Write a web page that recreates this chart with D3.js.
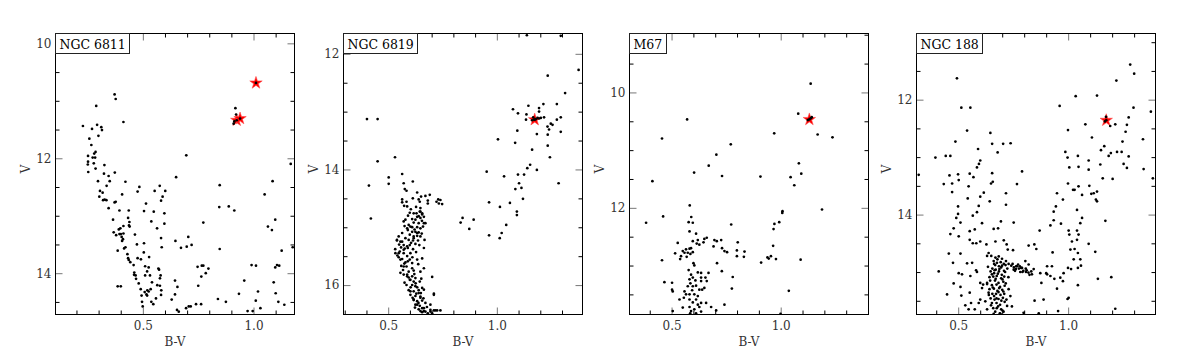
<!DOCTYPE html>
<html>
<head>
<meta charset="utf-8">
<script src="https://cdn.jsdelivr.net/npm/d3@7"></script>
<style>
  body { margin: 0; background: #fff; }
  text { font-family: "DejaVu Serif", "Liberation Serif", serif; }
</style>
</head>
<body>
<svg id="chart" width="1200" height="361"></svg>
<script>
// cluster names, one panel each
const clusterNames = ['NGC 6811', 'NGC 6819', 'M67', 'NGC 188'];

// axis ranges (B-V left..right, V top..bottom)
const xDomains = [[0.103, 1.183], [0.292, 1.392], [0.305, 1.400], [0.308, 1.395]];
const yDomains = [[9.82, 14.71], [11.64, 16.50], [8.97, 13.84], [10.84, 15.73]];

const xMajorTicks = [0.5, 1.0];
const yMajorTicks = [10, 12, 14, 16];

// [B-V, V]
const ngc6811 = [
  [0.370,10.88],[0.375,10.96],[0.287,11.08],[0.410,11.36],[0.227,11.43],[0.268,11.48],[0.291,11.41],
  [0.310,11.45],[0.313,11.50],[0.256,11.65],[0.297,11.60],[0.265,11.76],[0.284,11.88],[0.278,11.91],
  [0.250,11.95],[0.271,11.98],[0.282,11.98],[0.250,12.05],[0.249,12.10],[0.276,12.08],[0.251,12.23],
  [0.284,12.17],[0.324,12.11],[0.371,12.24],[0.322,12.26],[0.343,12.30],[0.348,12.39],[0.295,12.39],
  [0.334,12.47],[0.304,12.56],[0.316,12.59],[0.301,12.66],[0.325,12.71],[0.318,12.72],[0.333,12.72],
  [0.343,12.86],[0.375,12.75],[0.370,12.76],[0.392,12.90],[0.363,13.06],[0.366,13.28],[0.377,13.33],
  [0.398,13.31],[0.402,13.36],[0.410,13.30],[0.408,13.40],[0.404,13.43],[0.413,13.56],[0.384,13.60],
  [0.419,13.54],[0.392,13.31],[0.428,13.66],[0.431,13.73],[0.434,13.76],[0.441,13.80],[0.456,13.85],
  [0.459,13.98],[0.458,14.02],[0.465,14.03],[0.467,14.09],[0.479,14.17],[0.488,14.27],[0.492,14.38],
  [0.494,14.49],[0.497,14.57],[0.506,14.32],[0.514,14.36],[0.517,14.38],[0.518,14.29],[0.524,14.31],
  [0.533,14.27],[0.536,14.49],[0.545,14.53],[0.557,14.43],[0.563,14.20],[0.575,14.21],[0.580,14.37],
  [0.581,14.29],[0.575,14.08],[0.578,14.03],[0.571,13.93],[0.568,13.91],[0.524,13.89],[0.517,13.96],
  [0.508,14.03],[0.474,13.73],[0.471,13.49],[0.462,13.32],[0.437,13.10],[0.435,13.16],[0.438,13.18],
  [0.431,13.03],[0.434,12.90],[0.419,12.40],[0.404,12.62],[0.410,13.17],[0.389,13.23],[0.396,13.21],
  [0.474,12.57],[0.482,12.49],[0.512,12.78],[0.503,12.91],[0.536,13.09],[0.547,12.92],[0.551,12.56],
  [0.574,12.47],[0.587,12.66],[0.580,12.73],[0.595,12.95],[0.599,12.56],[0.595,13.13],[0.562,13.21],
  [0.580,13.38],[0.583,13.54],[0.502,13.63],[0.503,13.47],[0.489,13.75],[0.508,13.87],[0.526,13.71],
  [0.530,14.03],[0.539,14.15],[0.384,14.22],[0.398,14.22],[0.643,14.12],[0.654,14.23],[0.643,14.36],
  [0.628,14.45],[0.652,14.63],[0.660,14.66],[0.693,14.60],[0.705,14.57],[0.714,14.57],[0.738,14.53],
  [0.748,14.21],[0.761,14.53],[0.762,14.05],[0.771,13.86],[0.782,13.99],[0.794,13.91],[0.745,13.88],
  [0.764,13.86],[0.837,14.44],[0.873,14.49],[0.932,14.35],[0.956,14.12],[1.008,14.47],[1.018,14.31],
  [1.029,14.60],[0.971,14.65],[0.994,14.65],[0.989,13.85],[1.009,13.86],[1.089,14.15],[1.098,14.34],
  [1.110,14.49],[1.096,13.89],[1.104,13.85],[1.114,13.86],[1.137,14.54],[1.125,13.60],[1.096,13.06],
  [1.063,13.18],[1.081,13.24],[1.084,12.39],[1.048,12.62],[1.166,12.09],[1.175,13.54],[0.645,13.43],
  [0.670,13.55],[0.696,13.53],[0.703,13.36],[0.718,13.50],[0.771,13.11],[0.845,13.57],[0.845,12.46],
  [0.843,12.84],[0.886,12.83],[0.911,12.90],[0.648,12.32],[0.694,11.94],
  [0.916,11.12],[0.919,11.23],[0.911,11.35],[0.908,11.39],[1.009,10.68],[0.922,11.33],[0.937,11.30]
];
const ngc6811Stars = [[1.009,10.68],[0.922,11.33],[0.937,11.30]];

const ngc6819 = [
  [1.136,11.67],[1.292,11.68],[1.374,12.27],[1.232,12.37],[1.312,12.67],[1.274,12.86],[1.212,12.86],
  [1.143,12.89],[1.072,12.95],[1.095,13.02],[1.192,12.93],[1.192,12.99],[1.134,13.04],[1.132,13.13],
  [1.215,13.09],[1.274,13.13],[1.292,13.09],[1.246,13.20],[1.254,13.22],[1.231,13.25],[1.238,13.30],
  [1.092,13.32],[1.182,13.38],[1.232,13.39],[1.292,13.34],[1.003,13.47],[1.082,13.53],[1.232,13.58],
  [1.160,13.65],[1.242,13.78],[1.151,13.91],[1.138,13.97],[1.182,14.00],[1.123,14.08],[1.095,14.08],
  [1.031,14.11],[0.951,14.03],[1.100,14.23],[1.083,14.33],[1.111,14.31],[1.282,14.23],[1.118,14.50],
  [1.058,14.57],[0.962,14.56],[1.012,14.64],[1.090,14.72],[1.090,14.78],[1.041,14.95],[1.020,15.09],
  [1.011,15.18],[0.962,15.13],[0.840,14.83],[0.831,14.91],[0.891,14.86],[0.871,15.02],
  [1.165,13.09],[1.170,13.13],[1.178,13.12],[1.185,13.10],[1.192,13.11],[1.200,13.10],[1.160,13.14],
  [0.400,13.12],[0.449,13.12],[0.449,13.85],[0.409,14.27],[0.418,14.84],[0.529,13.78],
  [0.500,14.13],[0.562,14.07],[0.500,14.24],[0.569,14.23],[0.611,14.20],[0.574,14.33],[0.582,14.36],
  [0.631,14.39],[0.649,14.46],[0.669,14.45],[0.689,14.43],[0.562,14.51],[0.562,14.56],[0.582,14.55],
  [0.611,14.49],[0.638,14.51],[0.643,14.55],[0.680,14.53],[0.680,14.58],[0.728,14.51],[0.738,14.52],
  [0.720,14.55],[0.731,14.58],[0.746,14.59],[0.585,14.63],[0.646,14.66],[0.643,14.72],[0.597,14.74],
  [0.628,14.75],[0.654,14.75],[0.662,14.81],[0.646,14.83],[0.631,14.81],[0.608,14.85],[0.577,14.86],
  [0.569,14.89],[0.615,14.91],[0.662,14.92],[0.638,14.92],[0.592,14.95],[0.608,14.99],[0.631,14.99],
  [0.646,15.01],[0.658,14.98],[0.588,15.04],[0.608,15.07],[0.623,15.07],[0.638,15.08],[0.597,15.12],
  [0.615,15.15],[0.631,15.14],[0.646,15.15],[0.546,15.15],[0.577,15.18],[0.592,15.21],[0.612,15.22],
  [0.635,15.22],[0.538,15.22],[0.562,15.24],[0.569,15.30],[0.597,15.30],[0.623,15.28],[0.557,15.34],
  [0.588,15.35],[0.612,15.37],[0.662,15.35],[0.531,15.44],[0.551,15.41],[0.569,15.44],[0.585,15.49],
  [0.546,15.51],[0.562,15.54],[0.597,15.55],[0.577,15.60],[0.608,15.61],[0.654,15.53],[0.631,15.55],
  [0.558,15.66],[0.582,15.67],[0.608,15.70],[0.566,15.73],[0.592,15.76],[0.615,15.74],[0.646,15.76],
  [0.569,15.81],[0.585,15.84],[0.608,15.84],[0.623,15.87],[0.597,15.90],[0.615,15.93],[0.643,15.93],
  [0.700,15.85],[0.582,15.99],[0.608,15.99],[0.631,16.03],[0.654,16.04],[0.592,16.08],[0.615,16.10],
  [0.638,16.08],[0.662,16.07],[0.600,16.16],[0.623,16.18],[0.646,16.19],[0.708,16.16],[0.615,16.25],
  [0.631,16.27],[0.654,16.26],[0.623,16.33],[0.643,16.35],[0.669,16.30],[0.638,16.41],[0.662,16.39],
  [0.692,16.33],[0.654,16.46],[0.669,16.45],[0.692,16.45],[0.708,16.43],[0.723,16.43],[0.738,16.43],
  [0.538,15.21],[0.554,15.24],[0.546,15.44],[0.569,15.38],[0.585,15.32],[0.600,15.44],[0.615,15.18],
  [0.631,15.09],[0.623,14.86],[0.638,14.80],[0.646,14.72],[0.654,14.77],[0.615,14.75],[0.600,14.98],
  [0.585,15.01],[0.562,15.09],[0.554,15.55],[0.569,15.67],[0.554,15.78],[0.585,15.81],[0.600,15.90],
  [0.623,16.01],[0.638,16.13],[0.646,16.21],[0.615,16.24],[0.600,16.10],[0.631,16.33],[0.654,16.39],
  [0.662,16.44],[0.692,16.42],[0.715,16.43],[0.669,14.92],[0.665,15.21],[0.662,15.70],[0.708,16.14],
  [0.571,14.62],[0.602,14.68],[0.626,14.64],[0.589,14.79],[0.653,14.88],[0.573,14.97],[0.619,15.03],
  [0.652,15.10],[0.603,15.26],[0.641,15.30],[0.574,15.36],[0.626,15.42],[0.540,15.48],[0.609,15.51],
  [0.588,15.58],[0.636,15.63],[0.572,15.62],[0.618,15.80],[0.592,15.86],[0.650,15.88],[0.573,15.95],
  [0.624,15.96],[0.601,16.03],[0.648,16.13],[0.627,16.14],[0.610,16.21],[0.660,16.22],[0.637,16.30],
  [0.676,16.37],[0.621,16.38],[0.646,16.44],[0.680,16.48],[0.700,16.48],[0.548,15.29],[0.530,15.37],
  [1.172,13.13]
];
const ngc6819Stars = [[1.172,13.13]];

const m67 = [
  [1.078,10.36],[1.135,9.84],[1.167,10.72],[1.235,10.77],[0.968,10.70],[0.569,10.46],[0.454,10.79],
  [0.769,10.89],[0.703,11.07],[0.668,11.26],[0.601,11.38],[0.729,11.44],[0.410,11.53],[0.905,11.45],
  [1.081,11.22],[1.092,11.40],[1.043,11.46],[1.060,11.60],[1.187,12.02],[1.006,12.05],[1.005,12.08],
  [0.991,12.24],[0.969,12.27],[0.965,12.36],[0.963,12.65],[0.953,12.83],[0.937,12.85],[0.943,12.87],
  [0.976,12.88],[0.908,12.94],[1.089,12.89],[1.035,13.43],[0.581,11.95],[0.588,12.15],[0.459,12.14],
  [0.997,13.83],[1.122,10.47],[1.135,10.44],[1.140,10.42],[1.129,10.46],
  [0.381,12.25],[0.576,12.24],[0.595,12.25],[0.771,12.28],[0.580,12.40],[0.610,12.44],[0.526,12.60],
  [0.595,12.57],[0.618,12.55],[0.613,12.61],[0.625,12.63],[0.648,12.53],[0.659,12.51],[0.644,12.59],
  [0.694,12.55],[0.705,12.57],[0.725,12.55],[0.690,12.66],[0.729,12.69],[0.740,12.74],[0.752,12.76],
  [0.801,12.59],[0.797,12.73],[0.832,12.75],[0.797,12.83],[0.829,12.84],[0.564,12.71],[0.580,12.70],
  [0.587,12.69],[0.549,12.74],[0.557,12.77],[0.572,12.77],[0.584,12.79],[0.595,12.76],[0.514,12.78],
  [0.541,12.83],[0.567,12.84],[0.537,12.88],[0.454,12.90],[0.706,12.95],[0.598,12.95],[0.602,12.99],
  [0.576,13.07],[0.618,13.11],[0.633,13.12],[0.667,13.12],[0.728,13.09],[0.587,13.15],[0.595,13.20],
  [0.580,13.23],[0.607,13.25],[0.633,13.20],[0.653,13.20],[0.659,13.26],[0.633,13.26],[0.584,13.30],
  [0.595,13.35],[0.610,13.34],[0.572,13.35],[0.465,13.28],[0.500,13.29],[0.500,13.41],[0.503,13.44],
  [0.557,13.44],[0.625,13.41],[0.638,13.41],[0.648,13.38],[0.774,13.39],[0.778,13.19],[0.580,13.49],
  [0.602,13.49],[0.618,13.52],[0.554,13.55],[0.580,13.58],[0.610,13.58],[0.595,13.63],[0.534,13.58],
  [0.633,13.64],[0.656,13.64],[0.625,13.71],[0.549,13.72],[0.580,13.71],[0.602,13.75],[0.587,13.78],
  [0.679,13.71],[0.740,13.67],[0.583,13.82],[0.610,13.82],[0.633,13.79],[0.503,13.78],[0.702,13.77],
  [0.618,13.67],[0.564,13.49],[0.592,13.42]
];
const m67Stars = [[1.129,10.46]];

const ngc188 = [
  [1.280,11.38],[1.298,11.54],[1.217,11.66],[1.129,11.92],[1.032,11.93],[0.959,12.10],[1.295,12.13],
  [1.374,12.20],[1.273,12.30],[1.265,12.43],[1.212,12.42],[1.189,12.45],[1.170,12.29],[1.165,12.37],
  [1.076,12.42],[0.997,12.52],[1.259,12.55],[1.106,12.65],[1.245,12.72],[1.338,12.68],[1.162,12.80],
  [1.147,12.87],[1.182,12.97],[1.192,12.92],[1.220,12.90],[1.241,12.90],[1.273,12.98],[1.250,13.11],
  [1.265,13.18],[1.341,13.20],[1.383,13.36],[1.144,13.12],[1.155,13.36],[1.200,13.37],[0.985,12.90],
  [0.995,13.00],[1.042,12.97],[1.091,13.05],[1.003,13.17],[1.045,13.16],[1.091,13.21],[0.997,13.45],
  [1.020,13.56],[1.027,13.56],[1.061,13.65],[1.045,13.50],[1.094,13.49],[1.103,13.63],[1.114,13.62],
  [1.129,13.59],[1.129,13.76],[1.124,13.73],[0.947,13.62],[0.974,13.73],[0.932,13.94],[0.942,13.85],
  [0.917,14.18],[0.932,14.09],[0.965,14.15],[1.000,14.27],[1.003,14.34],[1.038,13.91],[1.053,14.14],
  [1.061,14.05],[1.038,14.27],[1.045,14.34],[1.038,14.43],[1.015,14.46],[1.008,14.60],[1.027,14.59],
  [1.042,14.66],[1.053,14.77],[1.023,14.77],[0.997,14.92],[1.011,14.94],[1.042,14.92],[1.056,14.88],
  [1.091,14.50],[1.121,14.64],[1.167,14.10],[1.133,15.11],[1.194,15.08],[1.212,15.63],[1.000,15.44],
  [0.995,15.46],[0.952,15.67],[1.042,15.22],[0.974,15.15],[0.977,15.01],[0.962,15.09],[0.947,15.28],
  [0.935,15.11],[0.917,15.06],[0.902,14.89],[0.924,14.89],[0.902,15.03],[0.927,14.65],[0.868,14.27],
  [0.876,15.18],[0.886,15.47],[0.845,15.49],[0.864,15.71],[0.795,15.70],[0.818,14.53],[0.844,14.51],
  [0.853,14.59],[0.803,14.80],[0.818,14.86],[0.841,14.94],[0.788,14.92],[0.765,14.89],[0.750,14.95],
  [0.780,14.99],[0.806,14.99],[0.833,15.03],[0.871,15.01],[0.898,15.01],
  [0.492,11.62],[0.512,12.13],[0.553,12.13],[0.538,12.53],[0.644,12.57],[0.485,12.72],[0.652,12.76],
  [0.702,12.76],[0.736,12.75],[0.588,12.85],[0.677,12.91],[0.394,13.00],[0.441,12.97],[0.462,12.97],
  [0.598,13.05],[0.592,13.11],[0.583,13.17],[0.497,13.29],[0.458,13.31],[0.500,13.39],[0.550,13.28],
  [0.567,13.34],[0.470,13.45],[0.432,13.46],[0.318,13.30],[0.652,13.27],[0.788,13.24],[0.655,13.42],
  [0.647,13.45],[0.545,13.50],[0.470,13.60],[0.715,13.62],[0.765,13.46],[0.614,13.61],[0.598,13.68],
  [0.541,13.71],[0.497,13.85],[0.641,13.76],[0.715,13.82],[0.591,13.84],[0.583,13.95],[0.564,14.01],
  [0.497,13.98],[0.508,14.13],[0.489,14.05],[0.750,14.13],[0.692,14.11],[0.659,14.24],[0.679,14.23],
  [0.606,14.14],[0.573,14.25],[0.550,14.28],[0.500,14.37],[0.462,14.33],[0.477,14.23],[0.550,14.43],
  [0.564,14.49],[0.580,14.49],[0.598,14.46],[0.626,14.51],[0.667,14.46],[0.705,14.44],[0.718,14.51],
  [0.723,14.60],[0.747,14.61],[0.455,14.67],[0.508,14.67],[0.538,14.84],[0.561,14.83],[0.629,14.71],
  [0.636,14.66],[0.579,14.96],[0.583,14.99],[0.409,14.98],[0.474,14.83],[0.500,15.01],[0.515,15.03],
  [0.553,15.06],[0.598,15.18],[0.629,15.20],[0.477,15.19],[0.508,15.25],[0.447,15.38],[0.512,15.40],
  [0.550,15.35],[0.591,15.53],[0.530,15.57],[0.556,15.53],[0.545,15.64],[0.573,15.64],[0.606,15.27],
  [0.667,14.74],[0.682,14.72],[0.697,14.76],
  [0.659,14.80],[0.674,14.83],[0.691,14.82],[0.705,14.85],[0.666,14.87],[0.683,14.89],[0.697,14.88],
  [0.713,14.87],[0.727,14.85],[0.739,14.88],[0.751,14.91],[0.761,14.89],[0.774,14.93],[0.784,14.92],
  [0.794,14.97],[0.809,14.96],[0.817,15.00],[0.830,14.98],[0.653,14.93],[0.668,14.95],[0.685,14.94],
  [0.706,14.97],[0.721,14.93],[0.645,14.98],[0.661,15.01],[0.678,15.02],[0.696,15.04],[0.711,14.99],
  [0.657,15.07],[0.673,15.06],[0.693,15.10],[0.707,15.07],[0.643,15.14],[0.665,15.14],[0.681,15.18],
  [0.703,15.16],[0.651,15.22],[0.672,15.21],[0.688,15.25],[0.709,15.23],[0.640,15.29],[0.660,15.28],
  [0.676,15.32],[0.698,15.30],[0.653,15.37],[0.670,15.37],[0.690,15.39],[0.707,15.37],[0.645,15.45],
  [0.663,15.47],[0.681,15.46],[0.701,15.44],[0.651,15.53],[0.672,15.53],[0.688,15.56],[0.709,15.51],
  [0.657,15.62],[0.673,15.62],[0.693,15.64],[0.666,15.68],[0.687,15.71],[0.704,15.68],
  [0.629,15.18],[0.636,15.35],[0.621,15.50],[0.727,15.29],[0.735,15.41],[0.720,15.58],[0.611,15.21],
  [0.598,15.47],[0.742,15.59],[0.629,15.64],
  [0.648,14.71],[0.676,14.77],[0.661,14.85],[0.693,14.91],[0.683,14.98],[0.651,15.03],[0.699,15.12],
  [0.668,15.11],[0.655,15.26],[0.684,15.27],[0.703,15.33],[0.661,15.41],[0.694,15.49],[0.647,15.57],
  [0.679,15.59],[0.699,15.66],[0.659,15.72],[0.690,15.72],[0.717,15.47],[0.637,15.39],[0.714,15.19],
  [0.640,15.08],[0.672,15.45],[0.681,15.34],[0.663,14.96],[0.715,14.80],[0.726,15.08],[0.633,14.90],
  [0.745,14.85],[0.760,14.94],[0.778,14.89],[0.790,14.99],[0.805,14.93],[0.822,15.04],[0.756,14.97],
  [0.770,14.86],
  [1.171,12.35]
];
const ngc188Stars = [[1.171,12.35]];

const clusterDots = [ngc6811, ngc6819, m67, ngc188];
const clusterStars = [ngc6811Stars, ngc6819Stars, m67Stars, ngc188Stars];

const svg = d3.select('#chart');
const panelLeft = [55.5, 343.5, 629.5, 916.5];
const panelTop = 33.5;
const panelW = 239, panelH = 281;

clusterNames.forEach((name, i) => {
  const g = svg.append('g').attr('transform', `translate(${panelLeft[i]},${panelTop})`);

  const x = d3.scaleLinear().domain(xDomains[i]).range([0, panelW]);
  const y = d3.scaleLinear().domain(yDomains[i]).range([0, panelH]);

  const [x0, x1] = xDomains[i];
  const [y0, y1] = yDomains[i];
  const xMajor = xMajorTicks.filter(v => v >= x0 && v <= x1);
  const yMajor = yMajorTicks.filter(v => v >= y0 && v <= y1);
  const xMinor = d3.range(1, 15).map(k => k / 10).filter(v => v > x0 && v < x1 && !xMajor.some(m => Math.abs(m - v) < 1e-6));
  const yMinor = d3.range(16, 34).map(k => k / 2).filter(v => v > y0 && v < y1 && !yMajor.includes(v));

  // minor ticks, all four sides
  const minorAxes = [
    [d3.axisBottom(x).tickValues(xMinor), `translate(0,${panelH})`],
    [d3.axisTop(x).tickValues(xMinor), null],
    [d3.axisLeft(y).tickValues(yMinor), null],
    [d3.axisRight(y).tickValues(yMinor), `translate(${panelW},0)`]
  ];
  minorAxes.forEach(([ax, tr]) => {
    g.append('g').attr('transform', tr)
      .call(ax.tickSize(-4).tickFormat('').offset(0))
      .call(s => s.select('.domain').remove())
      .selectAll('line').attr('stroke', '#000');
  });

  // major ticks
  const majorAxes = [
    [d3.axisBottom(x).tickValues(xMajor).tickFormat(d3.format('.1f')), `translate(0,${panelH})`, true],
    [d3.axisTop(x).tickValues(xMajor).tickFormat(''), null, false],
    [d3.axisLeft(y).tickValues(yMajor).tickFormat(d3.format('d')), null, true],
    [d3.axisRight(y).tickValues(yMajor).tickFormat(''), `translate(${panelW},0)`, false]
  ];
  majorAxes.forEach(([ax, tr, labelled], k) => {
    const a = g.append('g').attr('transform', tr)
      .call(ax.tickSize(-7).tickPadding(k === 0 ? 7 : 4).offset(0))
      .call(s => s.select('.domain').remove());
    a.selectAll('line').attr('stroke', '#777');
    if (labelled) {
      a.selectAll('text')
        .attr('fill', '#333')
        .style('font-family', '"DejaVu Serif", serif')
        .style('font-size', '12px');
    }
  });

  // clip for marks
  g.append('clipPath').attr('id', `clip${i}`)
    .append('rect').attr('width', panelW).attr('height', panelH);
  const marks = g.append('g').attr('clip-path', `url(#clip${i})`);

  marks.selectAll('path.star')
    .data(clusterStars[i])
    .join('path')
    .attr('class', 'star')
    .attr('d', d3.symbol(d3.symbolStar, 48))
    .attr('transform', d => `translate(${x(d[0])},${y(d[1])})`)
    .attr('fill', '#ff0000')
    .attr('stroke', '#ff5050')
    .attr('stroke-width', 0.6);

  marks.selectAll('circle.dot')
    .data(clusterDots[i])
    .join('circle')
    .attr('class', 'dot')
    .attr('cx', d => x(d[0]))
    .attr('cy', d => y(d[1]))
    .attr('r', 1.35)
    .attr('fill', '#000');

  // frame
  g.append('rect')
    .attr('width', panelW).attr('height', panelH)
    .attr('fill', 'none').attr('stroke', '#000').attr('stroke-width', 1);

  // name box
  const box = g.append('rect');
  const label = g.append('text')
    .attr('x', 4).attr('y', 15)
    .style('font-size', '12.5px')
    .attr('fill', '#000')
    .text(name);
  const tw = label.node().getComputedTextLength();
  box.attr('x', 0).attr('y', 0)
    .attr('width', Math.round(tw + 8)).attr('height', 20)
    .attr('fill', '#fff').attr('stroke', '#222').attr('stroke-width', 1);

  // axis titles
  g.append('text')
    .attr('x', panelW / 2).attr('y', panelH + 31)
    .attr('text-anchor', 'middle')
    .attr('fill', '#333')
    .style('font-size', '12px')
    .text('B-V');
  g.append('text')
    .attr('transform', `translate(${-26},${panelH / 2 - 5}) rotate(-90)`)
    .attr('text-anchor', 'middle')
    .attr('fill', '#333')
    .style('font-size', '12px')
    .text('V');
});
</script>
</body>
</html>
